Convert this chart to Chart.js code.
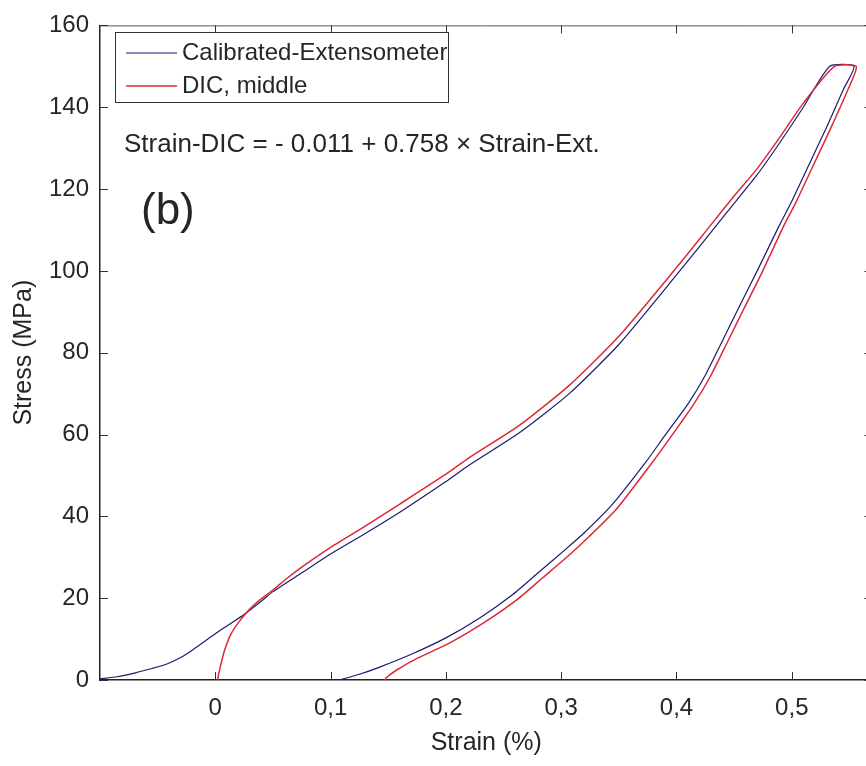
<!DOCTYPE html>
<html>
<head>
<meta charset="utf-8">
<script src="https://cdn.jsdelivr.net/npm/chart.js@4.4.0/dist/chart.umd.min.js"></script>
<style>
  html, body { margin: 0; padding: 0; background: #fff; overflow: hidden; }
  #wrap { width: 880px; height: 766px; }
</style>
</head>
<body>
<div id="wrap"><canvas id="chart" width="880" height="766"></canvas></div>
<script>
// Data (loading branch, top, then unloading branch)
const extStrain = [-0.100, -0.085, -0.070, -0.055, -0.043, -0.030, -0.020, -0.010, 0.000, 0.010, 0.025, 0.040, 0.050,
    0.075, 0.100, 0.130, 0.160, 0.200, 0.220, 0.264, 0.307, 0.350, 0.400, 0.430, 0.450, 0.470, 0.490, 0.510, 0.533,
    0.554,
    0.545, 0.530, 0.515, 0.500, 0.489, 0.470, 0.454, 0.440, 0.425, 0.410, 0.390, 0.374, 0.344, 0.320, 0.304, 0.280,
    0.258, 0.230, 0.200, 0.170, 0.142, 0.125, 0.110];
const extStress = [0.3, 0.8, 1.7, 2.8, 3.8, 5.5, 7.3, 9.3, 11.3, 13.2, 16.0, 19.3, 21.6,
    26.2, 30.8, 35.8, 41.0, 48.5, 52.5, 60.5, 70.0, 82.0, 99.0, 109.5, 116.5, 123.5, 131.5, 140.0, 150.0,
    150.0,
    144.5, 135.0, 126.0, 117.0, 111.0, 100.0, 91.0, 83.0, 74.5, 67.5, 59.8, 53.5, 42.8, 36.0, 32.0, 26.2,
    20.9, 15.3, 10.3, 6.3, 3.1, 1.4, 0.2];

const dicStrain = [0.002, 0.003, 0.005, 0.008, 0.0135, 0.021, 0.0295, 0.038, 0.050, 0.062, 0.075, 0.101, 0.130,
    0.160, 0.200, 0.220, 0.264, 0.307, 0.350, 0.400, 0.430, 0.450, 0.470, 0.490, 0.510, 0.537, 0.556,
    0.549, 0.534, 0.519, 0.504, 0.493, 0.474, 0.458, 0.444, 0.429, 0.414, 0.394, 0.378, 0.348, 0.324, 0.308, 0.284,
    0.262, 0.233, 0.203, 0.173, 0.156, 0.148, 0.147];
const dicStress = [0, 1.5, 4.0, 7.2, 11.2, 14.4, 17.2, 19.4, 22.0, 24.8, 27.6, 32.6, 37.6,
    43.0, 50.3, 54.3, 62.3, 72.0, 84.0, 100.8, 111.3, 118.3, 125.0, 132.8, 141.0, 150.0, 150.0,
    144.5, 135.0, 126.0, 117.0, 111.0, 99.5, 90.5, 82.5, 74.0, 67.0, 59.0, 52.8, 41.8, 35.0, 30.8, 25.0,
    19.7, 14.0, 9.0, 5.0, 2.2, 0.5, 0];

const xTicks = [0, 0.1, 0.2, 0.3, 0.4, 0.5];
const yTicks = [0, 20, 40, 60, 80, 100, 120, 140, 160];

const seriesNames = ['Calibrated-Extensometer', 'DIC, middle'];
const equationText = 'Strain-DIC = - 0.011 + 0.758 × Strain-Ext.';
const panelLabel = '(b)';

const FONT = '"Liberation Sans", Arial, Helvetica, sans-serif';
const TEXT = '#262626';

const toPoints = (xs, ys) => xs.map((x, i) => ({ x: x, y: ys[i] }));

// Box, inward ticks, legend and text labels
const framePlugin = {
    id: 'frame',
    afterDraw(chart) {
        const { ctx, chartArea: a, scales: { x, y } } = chart;
        ctx.save();

        ctx.strokeStyle = '#555';
        ctx.lineWidth = 1;
        ctx.beginPath();
        ctx.moveTo(a.left, a.top + 0.5);
        ctx.lineTo(a.right, a.top + 0.5);
        ctx.moveTo(a.right - 0.5, a.top);
        ctx.lineTo(a.right - 0.5, a.bottom);
        ctx.stroke();

        ctx.strokeStyle = '#333';
        ctx.beginPath();
        xTicks.forEach(v => {
            const px = Math.round(x.getPixelForValue(v)) + 0.5;
            ctx.moveTo(px, a.bottom);
            ctx.lineTo(px, a.bottom - 8);
            ctx.moveTo(px, a.top);
            ctx.lineTo(px, a.top + 8);
        });
        yTicks.forEach(v => {
            const py = Math.round(y.getPixelForValue(v)) + 0.5;
            ctx.moveTo(a.left, py);
            ctx.lineTo(a.left + 8, py);
            ctx.moveTo(a.right, py);
            ctx.lineTo(a.right - 8, py);
        });
        ctx.stroke();

        // legend
        ctx.fillStyle = '#fff';
        ctx.fillRect(115.5, 32.5, 333, 70);
        ctx.strokeStyle = '#333';
        ctx.strokeRect(115.5, 32.5, 333, 70);
        ctx.font = '24px ' + FONT;
        ctx.textBaseline = 'middle';
        ctx.textAlign = 'left';
        [53, 86].forEach((ly, i) => {
            const ds = chart.data.datasets[i];
            ctx.strokeStyle = ds.borderColor;
            ctx.lineWidth = ds.borderWidth;
            ctx.beginPath();
            ctx.moveTo(126, ly);
            ctx.lineTo(177, ly);
            ctx.stroke();
            ctx.fillStyle = TEXT;
            ctx.fillText(ds.label, 182, ly);
        });

        ctx.fillStyle = TEXT;
        ctx.font = '26px ' + FONT;
        ctx.fillText(equationText, 124, 145);
        ctx.font = '44px ' + FONT;
        ctx.fillText(panelLabel, 141, 212);

        ctx.restore();
    }
};

const ctx = document.getElementById('chart').getContext('2d');
new Chart(ctx, {
    type: 'line',
    data: {
        datasets: [
            {
                label: seriesNames[0],
                data: toPoints(extStrain, extStress),
                borderColor: '#1c1c6e',
                borderWidth: 1.2,
                pointRadius: 0,
                tension: 0.2,
                order: 1
            },
            {
                label: seriesNames[1],
                data: toPoints(dicStrain, dicStress),
                borderColor: '#dc2a35',
                borderWidth: 1.5,
                pointRadius: 0,
                tension: 0.2,
                order: 0
            }
        ]
    },
    options: {
        responsive: false,
        animation: false,
        layout: { padding: { top: 15, right: 7.5, left: 0, bottom: 0 } },
        plugins: {
            legend: { display: false },
            tooltip: { enabled: false }
        },
        scales: {
            x: {
                type: 'linear',
                min: -0.1,
                max: 0.57,
                afterFit: s => { s.height = 86; },
                afterBuildTicks: s => { s.ticks = xTicks.map(v => ({ value: v })); },
                grid: { display: false, drawTicks: false },
                border: { display: true, color: '#222', width: 1.5 },
                ticks: {
                    autoSkip: false,
                    maxRotation: 0,
                    padding: 14,
                    color: TEXT,
                    font: { family: FONT, size: 24 },
                    callback: v => String(v).replace('.', ',')
                },
                title: {
                    display: true,
                    text: 'Strain (%)',
                    color: TEXT,
                    font: { family: FONT, size: 25 },
                    padding: { top: 0, bottom: 8 }
                }
            },
            y: {
                min: 0,
                max: 160,
                afterFit: s => { s.width = 100; },
                afterBuildTicks: s => { s.ticks = yTicks.map(v => ({ value: v })); },
                grid: { display: false, drawTicks: false },
                border: { display: true, color: '#222', width: 1.5 },
                ticks: {
                    autoSkip: false,
                    padding: 11,
                    color: TEXT,
                    font: { family: FONT, size: 24 }
                },
                title: {
                    display: true,
                    text: 'Stress (MPa)',
                    color: TEXT,
                    font: { family: FONT, size: 25 },
                    padding: { top: 9, bottom: 0 }
                }
            }
        }
    },
    plugins: [framePlugin]
});
</script>
</body>
</html>
